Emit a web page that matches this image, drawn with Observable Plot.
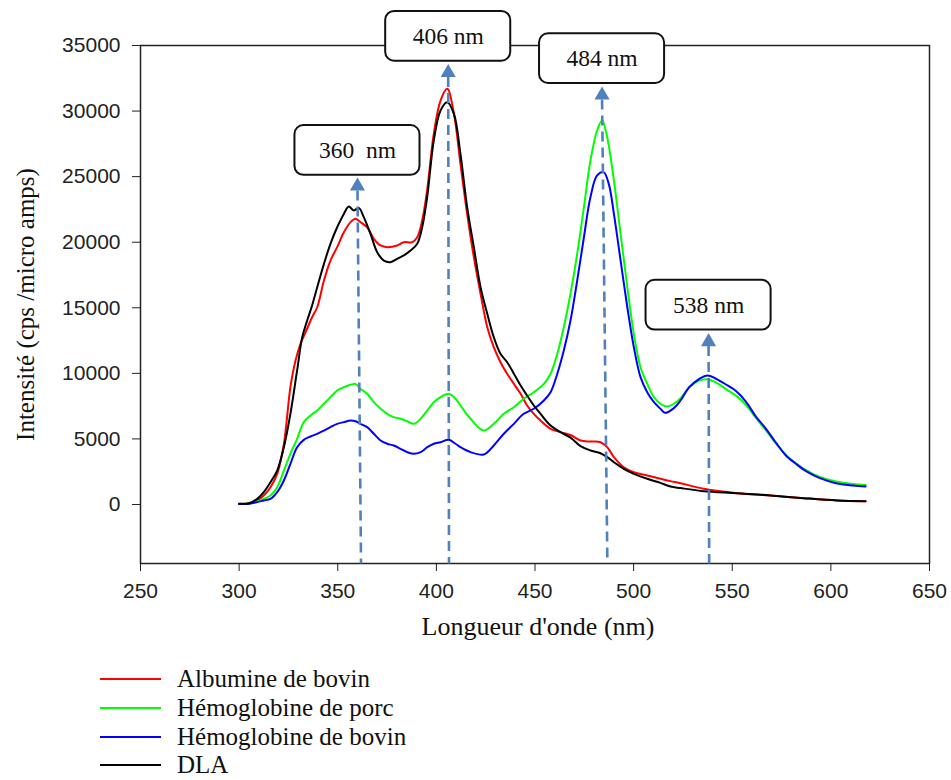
<!DOCTYPE html>
<html>
<head>
<meta charset="utf-8">
<script src="https://cdn.jsdelivr.net/npm/d3@7"></script>
<script src="https://cdn.jsdelivr.net/npm/@observablehq/plot@0.6"></script>
<style>
  body { margin: 0; background: #fff; }
  #chart svg text { white-space: pre; }
  .legend { font-family: "Liberation Serif", "Times New Roman", serif; font-size: 25px; color: #111; margin-top: 5px; }
  .row { display: flex; align-items: center; height: 28.7px; }
  .swatch { margin-left: 100px; width: 61px; height: 0; border-top: 2px solid; }
  .lab { margin-left: 16px; line-height: 28px; }
</style>
</head>
<body>
<div id="chart"></div>
<div class="legend" id="legend"></div>
<script>
// ---- Data ----
const seriesNames = ["Albumine de bovin", "Hémoglobine de porc", "Hémoglobine de bovin", "DLA"];
const seriesColors = ["#ff0000", "#00ff00", "#0000ff", "#000000"];

const albX = [300,305,309.2,312.5,315.9,319.3,322.7,326,328.6,331.1,333.7,337,339.6,343,346.3,349.7,353.1,356.5,359,361.5,364.9,368.3,371.7,375.1,380.1,383.5,387.7,390.3,392.8,395.3,398.7,402.1,405.5,408.9,412.2,415.6,419,422.4,425.8,429.1,432.5,435.9,439.3,442.7,446,449.4,452.8,457.9,462.9,468,473.1,478.1,483.2,486.6,490,495,500.1,506.9,513.6,518.7,523.8,535.6,552.5,569.4,586.3,603.2,617.6];
const albY = [50,80,305,686,1320,2340,4630,8945,10980,12250,13140,14280,15040,17080,18600,19620,20760,21530,21780,21530,21140,20260,19750,19620,19750,20000,20000,20380,21650,23940,28270,30800,31700,29790,25980,22160,18860,16070,13520,12000,10850,9970,9200,8440,7550,6915,6405,5770,5515,5300,4880,4800,4750,4370,3610,2840,2460,2210,1960,1780,1620,1200,865,690,480,305,250];

const porcX = [300,305,309.2,312.5,315.9,319.3,322.7,326,329.4,332.8,336.2,339.6,343,346.3,349.7,353.1,356.5,359,361.5,364.9,368.3,371.7,375.1,378.4,381.8,385.2,388.6,392,395.4,398.7,402.1,406.3,409.7,412.2,417.3,424,429.1,434.2,439.3,444.3,449.4,454.5,457.9,461.3,464.6,468,471.4,474.8,478.1,481.5,484,486.6,490,493.4,496.8,500.1,503.5,506.9,510.3,513.6,517,520.4,523.8,528.2,533.3,537.5,541.8,546.8,551.9,556.9,562,567.1,572.2,577.2,582.3,587.4,594.1,602.6,611.1,617.6];
const porcY = [30,60,230,430,686,1320,2590,3860,5010,6280,6790,7170,7680,8185,8690,8945,9125,9200,8820,8440,7800,7300,6915,6660,6535,6350,6150,6535,7170,7800,8185,8440,8060,7550,6535,5640,6150,6915,7420,8060,8560,9200,9970,11490,13520,16070,19120,22670,26230,28520,29280,28010,24710,20640,16570,13010,10470,9200,8185,7680,7470,7680,8100,8945,9455,9550,9300,8800,8300,7600,6600,5650,4650,3780,3150,2620,2120,1750,1560,1480];

const bovX = [300,305,309.2,312.5,315.9,319.3,322.7,326,329.4,332.8,336.2,339.6,343,346.3,349.7,353.1,356.5,359,361.5,364.9,368.3,371.7,375.1,378.4,381.8,385.2,388.6,392,395.4,398.7,402.1,406.3,409.7,412.2,417.3,424,429.1,434.2,439.3,444.3,449.4,454.5,457.9,461.3,464.6,468,471.4,474.8,478.1,481.5,484.8,487.4,490,493.4,496.8,500.1,503.5,506.9,510.3,513.6,515.9,520.4,523.8,528.2,533.3,537.5,541.8,546.8,551.9,556.9,562,567.1,572.2,577.2,582.3,587.4,594.1,602.6,611.1,617.6];
const bovY = [30,50,180,305,430,940,1830,3100,4370,4930,5185,5390,5640,5900,6150,6280,6405,6350,6150,5900,5390,4880,4630,4500,4245,3990,3860,3990,4370,4630,4750,4930,4630,4370,3990,3810,4500,5390,6150,6915,7300,7930,8560,9970,11740,14030,17080,20380,23430,25090,25340,24450,22160,18600,15040,12000,9710,8560,7800,7300,6990,7350,7930,8945,9585,9840,9585,9150,8650,7850,6700,5770,4700,3740,3100,2540,2030,1625,1450,1370];

const dlaX = [300,305,309.2,312.5,315.9,319.3,322.7,326,329.4,332,334.5,337,339.6,343,346.3,349.7,353.1,355.6,358.1,360.7,363.2,366.6,370,373.4,376.7,380.1,383.5,386.9,390.3,392.8,395.3,398.7,402.1,405.5,408.9,412.2,415.6,419,422.4,425.8,429.1,432.5,435.9,439.3,442.7,446,449.4,452.8,457.9,462.9,468,473.1,478.1,483.2,486.6,490,495,500.1,506.9,513.6,518.7,523.8,535.6,552.5,569.4,586.3,603.2,617.6];
const dlaY = [50,100,430,940,1700,2590,4370,6915,10220,12760,14030,15170,16570,18350,19880,21140,22160,22720,22420,22620,21910,20640,19240,18600,18480,18730,18990,19370,19880,21140,23400,27760,30040,30680,29790,26740,22670,19620,16570,14540,12760,11490,10850,9970,9070,8310,7550,6915,6020,5515,5100,4450,4120,3910,3610,3225,2720,2340,1960,1650,1370,1250,1015,865,690,480,305,250];

// Peak annotations
const peakNm = [360, 406, 484, 538];
const peakLabels = ["360  nm", "406 nm", "484 nm", "538 nm"];
const boxCenterY = [27000, 35700, 34000, 15200];
const arrowBaseY = [23950, 32600, 30880, 12080];
const dashFootNm = [361.8, 406.4, 486.7, 538.3];

const xTicks = [250, 300, 350, 400, 450, 500, 550, 600, 650];
const yTicks = [0, 5000, 10000, 15000, 20000, 25000, 30000, 35000];
const xDomain = [250, 650];
const yDomain = [-4500, 35000];

// ---- Build tables ----
const seriesX = [albX, porcX, bovX, dlaX];
const seriesY = [albY, porcY, bovY, dlaY];
const rows = seriesNames.flatMap((name, k) => seriesX[k].map((x, i) => ({name, x, y: seriesY[k][i]})));
const annot = peakNm.map((p, i) => ({peak: p, label: peakLabels[i], boxY: boxCenterY[i], arrowY: arrowBaseY[i], foot: dashFootNm[i]}));

const serif = "'Liberation Serif', 'Times New Roman', serif";
const sans = "'Liberation Sans', Arial, sans-serif";
const boxHalfW = 31.7, boxHalfH = 1900;
const annColor = "#4f81bd";

const chart = Plot.plot({
  width: 951,
  height: 660,
  marginLeft: 140,
  marginRight: 22,
  marginTop: 45,
  marginBottom: 97,
  style: {background: "white", color: "#222", fontFamily: sans},
  x: {domain: xDomain},
  y: {domain: yDomain},
  color: {domain: seriesNames, range: seriesColors},
  marks: [
    Plot.frame({stroke: "#222", strokeWidth: 1.5}),
    Plot.axisX({ticks: xTicks, tickFormat: d => String(d), tickSize: 8, tickPadding: 12, fontSize: 21, fontFamily: sans, label: null}),
    Plot.axisY({ticks: yTicks, tickFormat: d => String(d), tickSize: 8, tickPadding: 12, fontSize: 21, fontFamily: sans, label: null}),
    Plot.text(["Intensité (cps /micro amps)"], {frameAnchor: "left", textAnchor: "middle", lineAnchor: "middle", dx: -115, rotate: -90, fontSize: 25, fontFamily: serif, fill: "#111"}),
    Plot.text(["Longueur d'onde (nm)"], {frameAnchor: "bottom", dx: 3, dy: 71, fontSize: 26, fontFamily: serif, fill: "#111"}),
    Plot.line(rows, {x: "x", y: "y", z: "name", stroke: "name", strokeWidth: 2, curve: "catmull-rom"}),
    Plot.link(annot, {x1: "peak", y1: "arrowY", x2: "foot", y2: () => yDomain[0], stroke: annColor, strokeWidth: 2.6, strokeDasharray: "10,6"}),
    Plot.dot(annot, {x: "peak", y: "arrowY", symbol: "triangle", r: 5.6, fill: annColor, stroke: null, dy: -4.3}),
    Plot.rect(annot, {x1: d => d.peak - boxHalfW, x2: d => d.peak + boxHalfW, y1: d => d.boxY - boxHalfH, y2: d => d.boxY + boxHalfH, rx: 9, fill: "white", stroke: "#111", strokeWidth: 2}),
    Plot.text(annot, {x: "peak", y: "boxY", text: "label", fontSize: 23.5, fontFamily: serif, fill: "#111"})
  ]
});
document.getElementById("chart").appendChild(chart);

// ---- Legend (HTML, below the SVG) ----
const legend = document.getElementById("legend");
seriesNames.forEach((name, i) => {
  const row = document.createElement("div");
  row.className = "row";
  const sw = document.createElement("span");
  sw.className = "swatch";
  sw.style.borderTopColor = seriesColors[i];
  const lab = document.createElement("span");
  lab.className = "lab";
  lab.textContent = name;
  row.appendChild(sw);
  row.appendChild(lab);
  legend.appendChild(row);
});
</script>
</body>
</html>
